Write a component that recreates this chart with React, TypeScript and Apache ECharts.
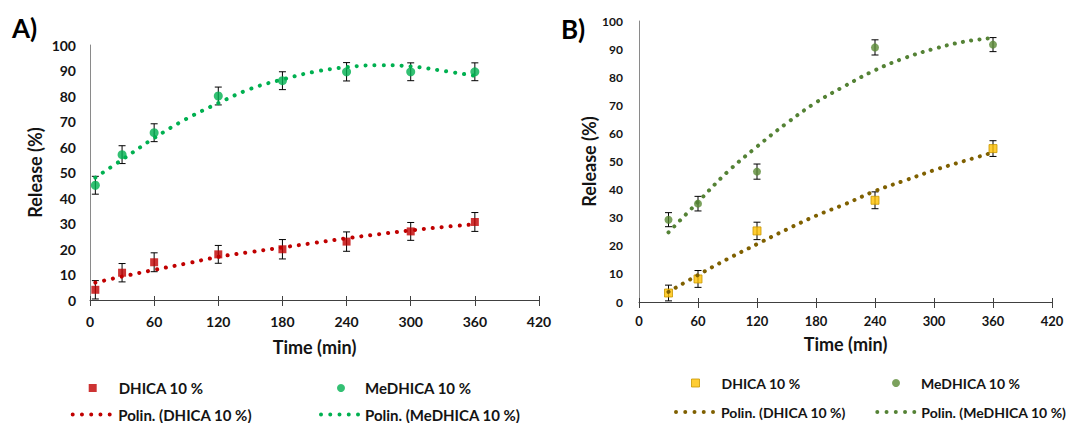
import React, { useEffect, useRef } from 'react';
import * as echarts from 'echarts';

// ---------- Panel A data ----------
const timesA = [5, 30, 60, 120, 180, 240, 300, 360];
const dhicaA = [4, 10.7, 14.8, 17.9, 19.9, 22.9, 26.9, 30.6];
const dhicaErrA = [3.6, 3.6, 3.7, 3.5, 3.8, 3.8, 3.5, 3.7];
const medhicaA = [45, 57, 65.6, 80, 86, 89.5, 89.5, 89.5];
const medhicaErrA = [3.5, 3.5, 3.5, 3.5, 3.5, 3.6, 3.5, 3.5];
const trendTimesA = [5, 30, 60, 90, 120, 150, 180, 210, 240, 270, 300, 330, 360];
const dhicaTrendA = [6.8, 9.2, 11.8, 14.3, 16.9, 18.8, 20.6, 22.4, 24.2, 25.8, 27.3, 28.6, 29.7];
const medhicaTrendA = [48, 55, 63.5, 71, 77.2, 82.8, 86.5, 89.5, 91.3, 92.1, 91.6, 89.9, 87.9];

// ---------- Panel B data ----------
const timesB = [30, 60, 120, 240, 360];
const dhicaB = [3.2, 8.2, 25.3, 36.2, 54.6];
const dhicaErrB = [2.8, 3, 3.1, 3, 2.8];
const medhicaB = [29.3, 35, 46.4, 90.6, 91.6];
const medhicaErrB = [2.5, 2.6, 2.7, 2.7, 2.5];
const trendTimesB = [30, 60, 90, 120, 150, 180, 210, 240, 270, 300, 330, 360];
const dhicaTrendB = [3.6, 9.6, 15.3, 20.6, 25.8, 30.7, 34.9, 39.5, 43.2, 46.9, 50.1, 53.2];
const medhicaTrendB = [24.8, 35.6, 46.3, 55.3, 63.6, 71, 77, 82.5, 86.8, 90.1, 92.6, 94];

const xTicks = { min: 0, max: 420, interval: 60 };
const yTicks = { min: 0, max: 100, interval: 10 };

const labels = {
  dhica: 'DHICA 10 %',
  medhica: 'MeDHICA 10 %',
  polDhica: 'Polin. (DHICA 10 %)',
  polMedhica: 'Polin. (MeDHICA 10 %)',
  time: 'Time (min)',
  release: 'Release (%)',
};

const FONT = 'Lato, "Open Sans", sans-serif';
const TXT = '#141414';

const pts = (xs: number[], ys: number[]) => xs.map((x, i) => [x, ys[i]]);
const errPts = (xs: number[], ys: number[], es: number[]) => xs.map((x, i) => [x, ys[i], es[i]]);

const dotIcon =
  'path://' +
  [2, 11.25, 20.5, 29.75, 39]
    .map((c) => `M${c - 2},2a2,2 0 1,0 4,0a2,2 0 1,0 -4,0z`)
    .join(' ');

const errRender = (params: any, api: any) => {
  const x = api.value(0);
  const y = api.value(1);
  const e = api.value(2);
  const top = api.coord([x, y + e]);
  const bot = api.coord([x, y - e]);
  const hw = 3.5;
  const st = { stroke: '#000', lineWidth: 1 };
  return {
    type: 'group',
    children: [
      { type: 'line', shape: { x1: top[0], y1: top[1], x2: bot[0], y2: bot[1] }, style: st },
      { type: 'line', shape: { x1: top[0] - hw, y1: top[1], x2: top[0] + hw, y2: top[1] }, style: st },
      { type: 'line', shape: { x1: bot[0] - hw, y1: bot[1], x2: bot[0] + hw, y2: bot[1] }, style: st },
    ],
  };
};

function makeX(gridIndex: number, fs: number, margin: number, nameGap: number, nameFs: number) {
  return {
    type: 'value',
    gridIndex,
    ...xTicks,
    name: labels.time,
    nameLocation: 'middle',
    nameGap,
    nameTextStyle: { fontFamily: FONT, fontWeight: 'bold', fontSize: nameFs, color: TXT },
    axisLine: { show: true, lineStyle: { color: '#404040', width: 1 } },
    axisTick: { show: true, inside: false, length: 6, lineStyle: { color: '#404040', width: 1 } },
    axisLabel: { fontFamily: FONT, fontWeight: 'bold', fontSize: fs, color: TXT, margin },
    splitLine: { show: false },
  };
}
function makeXInner(gridIndex: number) {
  return {
    type: 'value',
    gridIndex,
    position: 'bottom',
    ...xTicks,
    axisLine: { show: false },
    axisTick: { show: true, inside: true, length: 4, lineStyle: { color: '#404040', width: 1 } },
    axisLabel: { show: false },
    splitLine: { show: false },
  };
}
function makeY(gridIndex: number, fs: number, margin: number, nameGap: number, nameFs: number) {
  return {
    type: 'value',
    gridIndex,
    ...yTicks,
    name: labels.release,
    nameLocation: 'middle',
    nameGap,
    nameTextStyle: { fontFamily: FONT, fontWeight: 'bold', fontSize: nameFs, color: TXT },
    axisLine: { show: true, lineStyle: { color: '#8a8a8a', width: 1 } },
    axisTick: { show: false },
    axisLabel: { fontFamily: FONT, fontWeight: 'bold', fontSize: fs, color: TXT, margin },
    splitLine: { show: false },
  };
}

function legendItem(
  name: string,
  text: string,
  left: number,
  top: number,
  icon: string,
  w: number,
  h: number,
  pad: number,
  fs: number,
  itemStyle: any
) {
  return {
    left,
    top,
    padding: 0,
    itemGap: 0,
    itemWidth: w,
    itemHeight: h,
    selectedMode: false,
    formatter: () => text,
    data: [{ name, icon, itemStyle }],
    textStyle: { fontFamily: FONT, fontWeight: 'bold', fontSize: fs, color: TXT, padding: [0, 0, 0, pad] },
  };
}

const C = {
  redA: '#C00000',
  greenA: '#00B050',
  yellowB: '#FFC000',
  yellowBorderB: '#C99700',
  greenB: '#5A8A35',
  brownTrendB: '#7F6000',
  greenTrendB: '#548235',
};

export default function App() {
  const ref = useRef<HTMLDivElement>(null);
  useEffect(() => {
    if (!ref.current) return;
    const chart = echarts.init(ref.current, null, { renderer: 'svg' });
    const trendLine = (color: string, gap: number) => ({
      color,
      width: 4,
      type: [0.1, gap],
      cap: 'round',
    });
    chart.setOption({
      animation: false,
      backgroundColor: '#ffffff',
      grid: [
        { left: 90, top: 45, width: 449, height: 255 },
        { left: 639, top: 21, width: 413, height: 281 },
      ],
      xAxis: [makeX(0, 14, 14, 38, 18), makeX(1, 13, 12, 33, 18), makeXInner(0), makeXInner(1)],
      yAxis: [makeY(0, 14, 14, 46, 18), makeY(1, 12, 16, 37, 18)],
      graphic: [
        { type: 'text', left: 12, top: 15, style: { text: 'A)', font: `bold 26px ${FONT}`, fill: '#000' } },
        { type: 'text', left: 561, top: 16, style: { text: 'B)', font: `bold 26px ${FONT}`, fill: '#000' } },
      ],
      legend: [
        legendItem('A_dhica', labels.dhica, 88.7, 380.5, 'rect', 8, 8, 17, 15, { color: C.redA, borderWidth: 0 }),
        legendItem('A_medhica', labels.medhica, 337, 380.5, 'circle', 8, 8, 15, 15, { color: C.greenA, borderWidth: 0 }),
        legendItem('A_poldhica', labels.polDhica, 70.7, 407, dotIcon, 41, 4, 1.6, 15, { color: C.redA, borderWidth: 0 }),
        legendItem('A_polmedhica', labels.polMedhica, 319, 407, dotIcon, 41, 4, 0, 15, { color: C.greenA, borderWidth: 0 }),
        legendItem('B_dhica', labels.dhica, 691, 376, 'rect', 8, 8, 17, 14, { color: C.yellowB, borderColor: C.yellowBorderB, borderWidth: 1 }),
        legendItem('B_medhica', labels.medhica, 892, 376, 'circle', 8, 8, 16, 14, { color: C.greenB, borderWidth: 0 }),
        legendItem('B_poldhica', labels.polDhica, 674, 405, dotIcon, 41, 4, 1, 14, { color: C.brownTrendB, borderWidth: 0 }),
        legendItem('B_polmedhica', labels.polMedhica, 875.3, 405, dotIcon, 41, 4, 0, 14, { color: C.greenTrendB, borderWidth: 0 }),
      ],
      series: [
        // Panel A error bars
        { type: 'custom', name: 'A_dhica_err', xAxisIndex: 0, yAxisIndex: 0, z: 1, renderItem: errRender, encode: { x: 0, y: 1 }, data: errPts(timesA, dhicaA, dhicaErrA), clip: false },
        { type: 'custom', name: 'A_medhica_err', xAxisIndex: 0, yAxisIndex: 0, z: 1, renderItem: errRender, encode: { x: 0, y: 1 }, data: errPts(timesA, medhicaA, medhicaErrA), clip: false },
        // Panel A markers
        { type: 'scatter', name: 'A_dhica', xAxisIndex: 0, yAxisIndex: 0, z: 2, symbol: 'rect', symbolSize: 8, itemStyle: { color: C.redA }, data: pts(timesA, dhicaA) },
        { type: 'scatter', name: 'A_medhica', xAxisIndex: 0, yAxisIndex: 0, z: 2, symbol: 'circle', symbolSize: 9, itemStyle: { color: C.greenA }, data: pts(timesA, medhicaA) },
        // Panel A trends
        { type: 'line', name: 'A_poldhica', xAxisIndex: 0, yAxisIndex: 0, z: 3, smooth: 0.4, symbol: 'none', color: C.redA, lineStyle: trendLine(C.redA, 8.9), data: pts(trendTimesA, dhicaTrendA) },
        { type: 'line', name: 'A_polmedhica', xAxisIndex: 0, yAxisIndex: 0, z: 3, smooth: 0.4, symbol: 'none', color: C.greenA, lineStyle: trendLine(C.greenA, 8.9), data: pts(trendTimesA, medhicaTrendA) },
        // Panel B error bars
        { type: 'custom', name: 'B_dhica_err', xAxisIndex: 1, yAxisIndex: 1, z: 1, renderItem: errRender, encode: { x: 0, y: 1 }, data: errPts(timesB, dhicaB, dhicaErrB), clip: false },
        { type: 'custom', name: 'B_medhica_err', xAxisIndex: 1, yAxisIndex: 1, z: 1, renderItem: errRender, encode: { x: 0, y: 1 }, data: errPts(timesB, medhicaB, medhicaErrB), clip: false },
        // Panel B markers
        { type: 'scatter', name: 'B_dhica', xAxisIndex: 1, yAxisIndex: 1, z: 2, symbol: 'rect', symbolSize: 8, itemStyle: { color: C.yellowB, borderColor: C.yellowBorderB, borderWidth: 1 }, data: pts(timesB, dhicaB) },
        { type: 'scatter', name: 'B_medhica', xAxisIndex: 1, yAxisIndex: 1, z: 2, symbol: 'circle', symbolSize: 8, itemStyle: { color: C.greenB }, data: pts(timesB, medhicaB) },
        // Panel B trends
        { type: 'line', name: 'B_poldhica', xAxisIndex: 1, yAxisIndex: 1, z: 3, smooth: 0.4, symbol: 'none', color: C.brownTrendB, lineStyle: trendLine(C.brownTrendB, 8.2), data: pts(trendTimesB, dhicaTrendB) },
        { type: 'line', name: 'B_polmedhica', xAxisIndex: 1, yAxisIndex: 1, z: 3, smooth: 0.4, symbol: 'none', color: C.greenTrendB, lineStyle: trendLine(C.greenTrendB, 8.2), data: pts(trendTimesB, medhicaTrendB) },
      ],
    });
    return () => chart.dispose();
  }, []);
  return (
    <div
      ref={ref}
      style={{ position: 'fixed', left: 0, top: 0, width: 1072, height: 423, background: '#fff' }}
    />
  );
}
